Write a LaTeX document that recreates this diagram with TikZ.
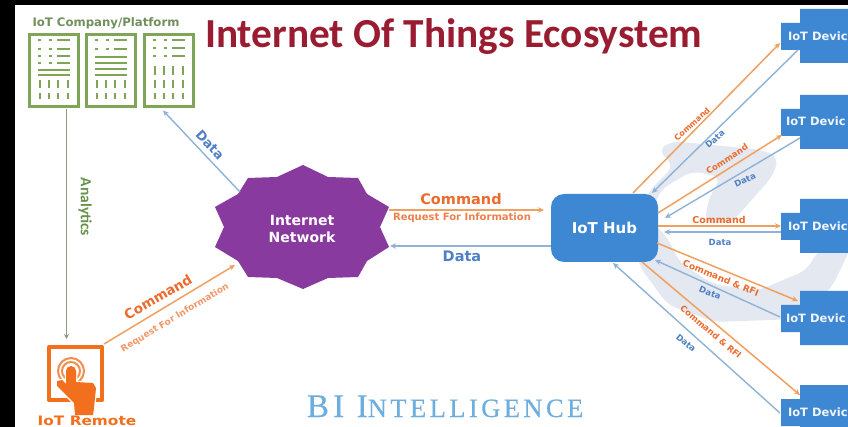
\documentclass[tikz,border=0pt]{standalone}
\usepackage{fontspec}
\setmainfont{DejaVu Sans}
\newfontfamily\titlefont{Carlito}
\newfontfamily\bifont{Liberation Serif}[LetterSpace=13,FakeBold=0.4]
\usetikzlibrary{arrows.meta,calc}
\definecolor{cmdline}{HTML}{F0A060}
\definecolor{cmdtext}{HTML}{EC6A2C}
\definecolor{dataline}{HTML}{8FB2D6}
\definecolor{datatext}{HTML}{4F7FC4}
\definecolor{devblue}{HTML}{3E87D2}
\definecolor{starpurple}{HTML}{883A9E}
\definecolor{platgreen}{HTML}{7FA556}
\definecolor{platlabel}{HTML}{71905C}
\definecolor{anline}{HTML}{8C9C82}
\definecolor{antext}{HTML}{66924A}
\definecolor{remoteorange}{HTML}{F26F1E}
\definecolor{swoosh}{HTML}{E3E8F1}
\definecolor{titlered}{HTML}{9A1C30}
\definecolor{bilue}{HTML}{6CAEDD}
\newcommand{\fsz}[1]{\fontsize{#1}{#1}\selectfont\bfseries}
\tikzset{
  x=1pt,y=-1pt,
  cmdarrow/.style={draw=cmdline,line width=1.5pt,-{Stealth[length=6pt,width=5.5pt,fill=remoteorange!70!cmdline]}},
  dataarrow/.style={draw=dataline,line width=1.4pt,-{Stealth[length=6pt,width=5.5pt,fill=dataline]}},
  plain/.style={inner sep=0pt,outer sep=0pt},
  cmdbig/.style={plain,text=cmdtext,font=\fsz{14.5}},
  reqlabel/.style={plain,text=cmdtext!85!white,font=\fsz{10}},
  datamain/.style={plain,text=datatext,font=\fsz{14.5}},
  cmdsmall/.style={plain,text=cmdtext,font=\fsz{9}},
  datasmall/.style={plain,text=datatext,font=\fsz{8.5}},
  platbox/.style={plain,draw=platgreen,line width=2.8pt,minimum width=49.5pt,minimum height=72.5pt},
  devtext/.style={plain,anchor=west,text=white!92!devblue,font=\fsz{11.5}},
  marks/.style={draw=platgreen,line width=2.2pt},
}
\newcommand{\dotrow}[1]{\draw[marks,line width=1.7pt] (10,#1)--(13,#1) (21,#1)--(24,#1) (29,#1)--(42,#1);}
\newcommand{\fullrow}[1]{\draw[marks,line width=1.7pt] (10,#1)--(42,#1);}
\newcommand{\vrow}[2]{\foreach \vx in {12,21,30,40}{\draw[marks] (\vx,#1)--(\vx,#2);}}
\newcommand{\devcross}[2]{\fill[devblue] (800,#1)--(848,#1)--(848,#1+54)--(800,#1+54)--(800,#1+41)--(781,#1+41)--(781,#1+14)--(800,#1+14)--cycle;}
\begin{document}
\begin{tikzpicture}
\useasboundingbox (0,0) rectangle (848,427);
\fill[white] (0,0) rectangle (848,427);
\fill[black] (0,0) rectangle (848,5);
\fill[black] (0,0) rectangle (15,427);
\clip (0,0) rectangle (848,427);
% swoosh
\fill[swoosh,rounded corners=9pt] (640,267)--(668,305)--(715,322)--(797,319)--(832,287)--(852,245)--(818,250)--(807,270)--(757,291)--(713,284)--(680,263)--(667,237)--(650,220)--(660,190)--(692,171)--(721,177)--(708,200)--(705,224)--(732,222)--(772,177)--(779,158)--(763,150)--(672,141)--(658,150)--(674,166)--(650,190)--(630,230)--cycle;
% title
\node[plain,anchor=west,text=titlered] (title) at (205,36.5) {\titlefont\fontsize{41.3}{41.3}\selectfont\bfseries Internet Of Things Ecosystem};
% platform
\node[plain,text=platlabel,font=\fsz{11.7}] (platlabel) at (106,23) {IoT Company/Platform};
\node[platbox] (p1) at (54,70.5) {};
\node[platbox] (p2) at (111,70.5) {};
\node[platbox] (p3) at (169,70.5) {};
\begin{scope}[shift={(p1.center)},shift={(-26,-37.5)}]
\dotrow{7}\dotrow{16}\dotrow{23}\dotrow{30}\fullrow{37}\fullrow{42}\vrow{47}{55}\vrow{60}{66}
\end{scope}
\begin{scope}[shift={(p2.center)},shift={(-26,-37.5)}]
\dotrow{7}\dotrow{16}\fullrow{24}\fullrow{30}\fullrow{36}\fullrow{42}\vrow{47}{55}\vrow{60}{66}
\end{scope}
\begin{scope}[shift={(p3.center)},shift={(-26,-37.5)}]
\dotrow{7}\dotrow{15}\dotrow{23}\vrow{33}{42}\vrow{47}{55}\vrow{60}{66}
\end{scope}
% star
\fill[starpurple] (303,165)--(328,177)--(358,178)--(367,194)--(389,207)--(380,227)--(389,247)--(367,261)--(358,277)--(328,278)--(303,289)--(277,278)--(248,277)--(238,261)--(215,247)--(224,227)--(215,207)--(238,194)--(248,178)--(277,177)--cycle;
\node[plain,align=center,text=white,font=\fsz{14}] (net) at (302,229) {Internet\\[3pt]Network};
% hub
\node[plain,fill=devblue,rounded corners=13pt,minimum width=107pt,minimum height=68pt,text=white,font=\fsz{15}] (hub) at (604.5,228) {IoT Hub};
% devices
\devcross{9}{1}\devcross{95}{2}\devcross{199}{3}\devcross{291}{4}\devcross{385}{5}
\node[devtext] (d1) at (788,36) {IoT Devic};
\node[devtext] (d2) at (786,121) {IoT Devic};
\node[devtext] (d3) at (788,226) {IoT Devic};
\node[devtext] (d4) at (786,318) {IoT Devic};
\node[devtext] (d5) at (788,412) {IoT Devic};
% remote
\draw[remoteorange,line width=4pt,line join=round] (49,347) rectangle (102,400);
\foreach \rr in {13,9}{\draw[remoteorange!80!white,line width=2pt] (71,371) circle (\rr);}
\draw[white,line width=2.5pt,line join=round] (66,371)--(66,384)--(62,380)--(57,381)--(57,386)--(74,403)--(75,415)--(93,415)--(94,408)--(96,388)--(93,383)--(76,382)--(76,371);
\fill[remoteorange] (66,371)--(66,384)--(62,380)--(57,381)--(57,386)--(74,403)--(75,415)--(93,415)--(94,408)--(96,388)--(93,383)--(76,382)--(76,371) arc[start angle=0,end angle=-180,radius=5]--cycle;
\node[plain,text=remoteorange,font=\fsz{13}] (remote) at (87,420.5) {\scalebox{1.18}[1]{IoT Remote}};
% connector ends
\coordinate (anS) at (66.5,109.5);
\coordinate (anE) at (66.5,339);
\coordinate (rmS) at (104,344);
\coordinate (rmE) at (235,265);
\coordinate (ntD) at (240,192);
\coordinate (p3D) at (163,110.5);
\coordinate (ntC) at (389,210);
\coordinate (hbC) at (544,210);
\coordinate (hbD) at (551,246);
\coordinate (ntR) at (390,246);
\coordinate (h1c) at (633,193); \coordinate (d1c) at (780,43);
\coordinate (d1d) at (798,50);  \coordinate (h1d) at (652,193);
\coordinate (h2c) at (658,213); \coordinate (d2c) at (782,135);
\coordinate (d2d) at (800,138); \coordinate (h2d) at (665,218);
\coordinate (h3c) at (658,226); \coordinate (d3c) at (781,226);
\coordinate (d3d) at (781,232); \coordinate (h3d) at (664,232);
\coordinate (h4c) at (657,243); \coordinate (d4c) at (798,301);
\coordinate (d4d) at (780,317); \coordinate (h4d) at (655,260);
\coordinate (h5c) at (642,262); \coordinate (d5c) at (800,395);
\coordinate (d5d) at (780,413); \coordinate (h5d) at (613,263);
% connectors
\draw[draw=anline,line width=1.5pt,-{Stealth[length=5pt,width=5pt,fill=anline]}] (anS)--(anE);
\draw[cmdarrow] (rmS)--(rmE);
\draw[dataarrow] (ntD)--(p3D);
\draw[cmdarrow] (ntC)--(hbC);
\draw[dataarrow] (hbD)--(ntR);
\draw[cmdarrow] (h1c)--(d1c);\draw[dataarrow] (d1d)--(h1d);
\draw[cmdarrow] (h2c)--(d2c);\draw[dataarrow] (d2d)--(h2d);
\draw[cmdarrow] (h3c)--(d3c);\draw[dataarrow] (d3d)--(h3d);
\draw[cmdarrow] (h4c)--(d4c);\draw[dataarrow] (d4d)--(h4d);
\draw[cmdarrow] (h5c)--(d5c);\draw[dataarrow] (d5d)--(h5d);
% labels
\node[plain,rotate=-90,text=antext] (an) at (85,207) {\titlefont\fontsize{15.5}{15.5}\selectfont\bfseries Analytics};
\node[datasmall,font=\fsz{13},rotate=-47] (l1) at (210,145) {Data};
\node[cmdbig,font=\fsz{13.5},rotate=30] (l2) at (158,297) {Command};
\node[reqlabel,font=\fsz{9},rotate=31,text=cmdtext!70!white] (l3) at (175,318) {Request For Information};
\node[cmdbig] (l4) at (461,199.5) {Command};
\node[reqlabel] (l5) at (462,218) {Request For Information};
\node[datamain] (l6) at (462,256.5) {Data};
\node[cmdsmall,font=\fsz{8},rotate=42] (c1) at (692,124) {Command};
\node[datasmall,rotate=42] (t1) at (715,139) {Data};
\node[cmdsmall,font=\fsz{8.5},rotate=33] (c2) at (727,159) {Command};
\node[datasmall,rotate=25] (t2) at (745,180) {Data};
\node[cmdsmall,font=\fsz{9.5}] (c3) at (719,220) {Command};
\node[datasmall] (t3) at (720,242) {Data};
\node[cmdsmall,rotate=-22] (c4) at (721,278) {Command \& RFI};
\node[datasmall,rotate=-22] (t4) at (710,293) {Data};
\node[cmdsmall,font=\fsz{8.5},rotate=-40] (c5) at (711,332) {Command \& RFI};
\node[datasmall,rotate=-40] (t5) at (686,343) {Data};
% BI
\node[plain,anchor=base west,text=bilue] (bi) at (307,417) {\bifont\fontsize{33}{33}\selectfont BI I\fontsize{26.5}{26.5}\selectfont NTELLIGENCE};
\end{tikzpicture}
\end{document}
